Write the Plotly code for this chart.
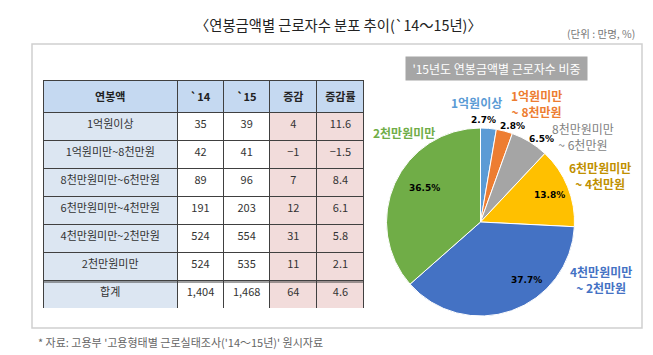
import plotly.graph_objects as go

# ---------------- data ----------------
categories = ["1억원이상", "1억원미만~8천만원", "8천만원미만~6천만원",
              "6천만원미만~4천만원", "4천만원미만~2천만원", "2천만원미만"]
y14 = [35, 42, 89, 191, 524, 524]
y15 = [39, 41, 96, 203, 554, 535]
diff = [4, -1, 7, 12, 31, 11]
rate = [11.6, -1.5, 8.4, 6.1, 5.8, 2.1]
total_label = "합계"
total_14 = "1,404"
total_15 = "1,468"
total_diff = 64
total_rate = 4.6
header_labels = ["연봉액", "`14", "`15", "증감", "증감률"]

pie_labels = ["1억원이상", "1억원미만<br>~ 8천만원", "8천만원미만<br>~ 6천만원",
              "6천만원미만<br>~ 4천만원", "4천만원미만<br>~ 2천만원", "2천만원미만"]
pie_share = [2.7, 2.8, 6.5, 13.8, 37.7, 36.5]
pie_colors = ["#5b9bd5", "#ed7d31", "#a5a5a5", "#ffc000", "#4472c4", "#70ad47"]
label_colors = ["#5b9bd5", "#ed7d31", "#7f7f7f", "#bf9000", "#4472c4", "#70ad47"]

title_text = "〈연봉금액별 근로자수 분포 추이(`14～15년)〉"
unit_text = "(단위 : 만명, %)"
pie_title = "'15년도 연봉금액별 근로자수 비중"
source_text = "* 자료: 고용부 '고용형태별 근로실태조사('14～15년)' 원시자료"

# ---------------- layout helpers ----------------
# the page body keeps its default 8px margin, so the figure is 8px smaller
OFF = 8
W, H = 653 - OFF, 355 - OFF
def px(x): return (x - OFF) / W
def py(y): return 1 - (y - OFF) / H

FONT = "Noto Sans CJK KR"

def fmt(v):
    return f"{v}".replace("-", "−")

col0 = categories + [total_label]
col1 = [str(v) for v in y14] + [total_14]
col2 = [str(v) for v in y15] + [total_15]
col3 = [fmt(v) for v in diff] + [str(total_diff)]
col4 = [fmt(v) for v in rate] + [str(total_rate)]
n = len(col0)

fig = go.Figure()

fig.add_trace(go.Table(
    domain=dict(x=[px(43), px(364)], y=[py(308), py(80)]),
    columnwidth=[134, 46, 46, 47, 47],
    header=dict(
        values=[f"<b>{h}</b>" for h in header_labels],
        fill_color="#c5d9f1",
        line=dict(color="#404040", width=1),
        align="center",
        height=25,
        font=dict(family=FONT, size=11, color="#222222"),
    ),
    cells=dict(
        values=[col0, col1, col2, col3, col4],
        fill_color=[["#dce6f2"] * n, ["#ffffff"] * n, ["#ffffff"] * n,
                    ["#f2dcdb"] * n, ["#f2dcdb"] * n],
        line=dict(color="#404040", width=1),
        align="center",
        height=28,
        font=dict(family=FONT, size=11, color="#333333"),
    ),
))

fig.add_trace(go.Pie(
    labels=pie_labels,
    values=pie_share,
    sort=False,
    direction="clockwise",
    rotation=0,
    marker=dict(colors=pie_colors, line=dict(color="#ffffff", width=1)),
    textinfo="none",
    domain=dict(x=[px(386.5), px(574.5)], y=[py(316), py(128)]),
    hoverinfo="label+percent",
    showlegend=False,
))

# outer frame
fig.add_shape(type="rect", xref="paper", yref="paper",
              x0=px(32), x1=px(642), y0=py(328), y1=py(44),
              line=dict(color="#d0d0d0", width=1.5), fillcolor="rgba(0,0,0,0)")
# double rule above the total row
fig.add_shape(type="line", xref="paper", yref="paper",
              x0=px(43), x1=px(364), y0=py(282), y1=py(282),
              line=dict(color="#404040", width=1))

annotations = [
    dict(text=title_text, x=px(338), y=py(24), font=dict(size=14.3, color="#222222", family=FONT)),
    dict(text=unit_text, x=px(601), y=py(34), font=dict(size=10.5, color="#777777", family=FONT)),
    dict(text=pie_title, x=px(497), y=py(68), bgcolor="#a6a6a6",
         font=dict(size=12, color="#ffffff", family=FONT), borderpad=3, width=175),
    dict(text=source_text, x=px(36), y=py(342), xanchor="left",
         font=dict(size=11, color="#666666", family=FONT)),
]

label_pos = [(476, 103), (536, 104), (583, 136), (600, 175), (601, 279), (404, 132)]
label_bold = [True, True, False, True, True, True]
for lab, col, (lx, ly), b in zip(pie_labels, label_colors, label_pos, label_bold):
    annotations.append(dict(text=f"<b>{lab}</b>" if b else lab, x=px(lx), y=py(ly),
                            align="center",
                            font=dict(size=12, color=col, family=FONT)))

pct_pos = [(483.5, 120), (513, 126), (541, 139), (549.5, 195), (526, 280), (425, 188)]
for v, (tx, ty) in zip(pie_share, pct_pos):
    annotations.append(dict(text=f"<b>{v:.1f}%</b>", x=px(tx), y=py(ty),
                            font=dict(size=9, color="#000000", family="DejaVu Sans")))

for a in annotations:
    a.setdefault("xref", "paper")
    a.setdefault("yref", "paper")
    a.setdefault("xanchor", "center")
    a.setdefault("yanchor", "middle")
    a.setdefault("showarrow", False)
fig.update_layout(annotations=annotations)

fig.update_layout(
    width=W, height=H,
    margin=dict(l=0, r=0, t=0, b=0),
    paper_bgcolor="#ffffff",
    plot_bgcolor="#ffffff",
    font=dict(family=FONT),
)

fig.write_html("out.html")
